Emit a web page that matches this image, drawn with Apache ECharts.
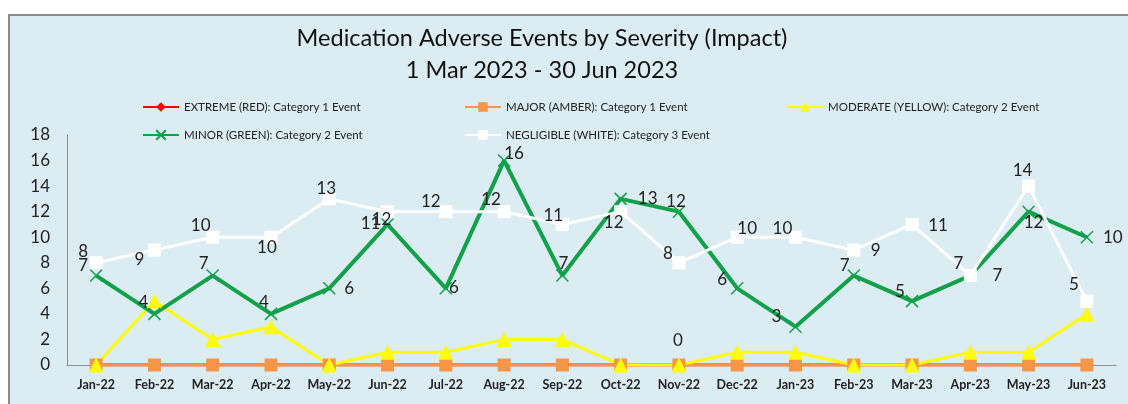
<!DOCTYPE html>
<html>
<head>
<meta charset="utf-8">
<script src="https://cdn.jsdelivr.net/npm/echarts@6/dist/echarts.min.js"></script>
<style>
html,body{margin:0;padding:0;background:#fff;}
#chart{width:1128px;height:404px;}
</style>
</head>
<body>
<div id="chart"></div>
<script>
// months on the x axis
var months = ['Jan-22','Feb-22','Mar-22','Apr-22','May-22','Jun-22','Jul-22','Aug-22','Sep-22','Oct-22','Nov-22','Dec-22',
              'Jan-23','Feb-23','Mar-23','Apr-23','May-23','Jun-23'];
var extremeRed   = [0,0,0,0,0,0,0,0,0,0,0,0,0,0,0,0,0,0];
var majorAmber   = [0,0,0,0,0,0,0,0,0,0,0,0,0,0,0,0,0,0];
var moderateYel  = [0,5,2,3,0,1,1,2,2,0,0,1,1,0,0,1,1,4];
var minorGreen   = [7,4,7,4,6,11,6,16,7,13,12,6,3,7,5,7,12,10];
var negligibleWh = [8,9,10,10,13,12,12,12,11,12,8,10,10,9,11,7,14,5];
var yTicks = {min:0, max:18, step:2};

// label offsets (px from the point) - the labels were hand placed in the original
var greenLblOff = [[-13,-10],[-11,-11],[-9,-12],[-7,-11],[20,0],[-17,-1],[8,-1],[10,-7],[1,-12],[27,0],[-3,-10],[-15,-9],
                   [-19,-10],[-9,-10],[-12,-10],[-12,-12],[5,11],[26,0]];
var whiteLblOff = [[-13,-11],[-15,10],[-12,-12],[-4,10],[-3,-10],[-6,8],[-15,-10],[-13,-12],[-9,-9],[-7,11],[-11,-9],[10,-9],
                   [-13,-9],[22,1],[26,1],[27,0],[-6,-16],[-13,-17]];
var yellowLblIdx = 10, yellowLblOff = [-1,-24];

var FONT = 'Lato';
var myChart = echarts.init(document.getElementById('chart'));

function withLabels(vals, offs){
	var out = [];
	for(var i=0;i<vals.length;i++){
		out.push({value:vals[i], label:{show:true, position:'inside', offset:offs[i]}});
	}
	return out;
}
var yellowData = moderateYel.map(function(v,i){
	if(i==yellowLblIdx) return {value:v, label:{show:true, position:'inside', offset:yellowLblOff}};
	return v;
});

var lblStyle = {fontFamily:FONT, fontSize:17, color:'#222'};
var crossPath = 'path://M0,0L10,10M10,0L0,10';

function legendAt(name, left, top){
	return {
		data:[name], left:left, top:top, padding:0, itemWidth:36, itemHeight:12, itemGap:4,
		textStyle:{fontFamily:FONT, fontSize:11.5, color:'#222'}
	};
}

var option = {
	animation:false,
	backgroundColor:'#ffffff',
	graphic:[{
		type:'rect', left:8, top:14, z:-10,
		shape:{width:1130, height:400},
		style:{fill:'#dbedf3', stroke:'#8c8c8c', lineWidth:2}
	}],
	title:{
		text:'Medication Adverse Events by Severity (Impact)\n1 Mar 2023 - 30 Jun 2023',
		left:537, top:17, textAlign:'center',
		textStyle:{fontFamily:FONT, fontSize:23.5, fontWeight:'normal', color:'#111', lineHeight:32}
	},
	legend:[
		legendAt('EXTREME (RED): Category 1 Event',142,101),
		legendAt('MAJOR (AMBER): Category 1 Event',464,101),
		legendAt('MODERATE (YELLOW): Category 2 Event',786,101),
		legendAt('MINOR (GREEN): Category 2 Event',142,129),
		legendAt('NEGLIGIBLE (WHITE): Category 3 Event',464,129)
	],
	grid:{left:67, right:12, top:135, bottom:39},
	xAxis:{
		type:'category', data:months, boundaryGap:true,
		axisLine:{lineStyle:{color:'#8c8c8c', width:1}},
		axisTick:{show:false},
		axisLabel:{interval:0, fontFamily:FONT, fontSize:12.5, fontWeight:'bold', color:'#222', margin:13}
	},
	yAxis:{
		type:'value', min:yTicks.min, max:yTicks.max, interval:yTicks.step,
		axisLine:{show:true, lineStyle:{color:'#8c8c8c', width:1}},
		axisTick:{show:false},
		splitLine:{show:false},
		axisLabel:{fontFamily:FONT, fontSize:17, color:'#222', margin:17}
	},
	series:[
		{
			name:'EXTREME (RED): Category 1 Event', type:'line', data:extremeRed,
			symbol:'diamond', symbolSize:7,
			lineStyle:{color:'#ff0000', width:3}, itemStyle:{color:'#ff0000'}
		},
		{
			name:'MAJOR (AMBER): Category 1 Event', type:'line', data:majorAmber,
			symbol:'rect', symbolSize:13,
			lineStyle:{color:'#f79646', width:3}, itemStyle:{color:'#f79646'}
		},
		{
			name:'MODERATE (YELLOW): Category 2 Event', type:'line', data:yellowData,
			symbol:'triangle', symbolSize:15,
			lineStyle:{color:'#ffff00', width:3}, itemStyle:{color:'#ffff00'},
			label:lblStyle
		},
		{
			name:'MINOR (GREEN): Category 2 Event', type:'line', data:withLabels(minorGreen, greenLblOff),
			symbol:crossPath, symbolSize:12,
			lineStyle:{color:'#12a14a', width:4}, itemStyle:{color:'#12a14a', borderColor:'#12a14a', borderWidth:1.5},
			label:lblStyle
		},
		{
			name:'NEGLIGIBLE (WHITE): Category 3 Event', type:'line', data:withLabels(negligibleWh, whiteLblOff),
			symbol:'rect', symbolSize:13,
			lineStyle:{color:'#ffffff', width:3}, itemStyle:{color:'#ffffff'},
			label:lblStyle
		}
	]
};
myChart.setOption(option);
</script>
</body>
</html>
